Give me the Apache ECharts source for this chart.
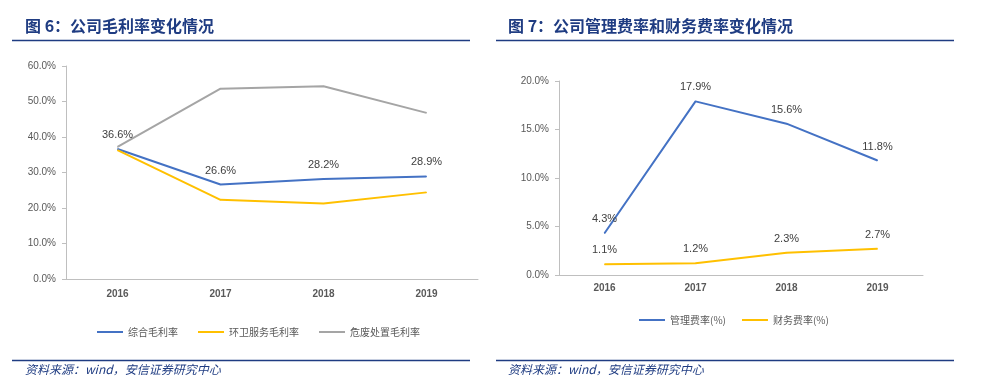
<!DOCTYPE html>
<html><head><meta charset="utf-8">
<script src="https://cdn.jsdelivr.net/npm/echarts@6/dist/echarts.min.js"></script>
<style>html,body{margin:0;padding:0;background:#fff}#c{width:987px;height:382px}</style>
</head><body><div id="c"></div>
<script>
const years = ['2016','2017','2018','2019'];
const grossTotal = [36.6, 26.6, 28.2, 28.9];      // 综合毛利率
const grossSanitation = [36.3, 22.3, 21.3, 24.4]; // 环卫服务毛利率
const grossHazard = [37.2, 53.6, 54.3, 46.8];     // 危废处置毛利率
const mgmtRate = [4.3, 17.9, 15.6, 11.8];         // 管理费率(%)
const finRate = [1.1, 1.2, 2.3, 2.7];             // 财务费率(%)

const navy = '#1f3c82';
const axisLblColor = '#595959';
const pct = v => v.toFixed(1) + '%';
const chart = echarts.init(document.getElementById('c'));

function yAxis(grid, max, interval){
  return {type:'value', gridIndex:grid, min:0, max:max, interval:interval,
    axisLine:{show:true, lineStyle:{color:'#bfbfbf'}},
    axisTick:{show:true, length:4, lineStyle:{color:'#bfbfbf'}},
    splitLine:{show:false},
    axisLabel:{formatter:v=>pct(v), color:axisLblColor, fontSize:10, fontFamily:'Liberation Sans', margin:10}};
}
function xAxis(grid, margin){
  return {type:'category', gridIndex:grid, data:years, boundaryGap:true,
    axisLine:{lineStyle:{color:'#bfbfbf'}}, axisTick:{show:false},
    axisLabel:{color:axisLblColor, fontSize:10, fontFamily:'Liberation Sans', fontWeight:'bold', margin:margin}};
}
function line(name, data, color, grid, showLabel){
  return {name, type:'line', xAxisIndex:grid, yAxisIndex:grid, data,
    symbol:'circle', symbolSize:1, showSymbol:true,
    lineStyle:{color, width:2}, itemStyle:{color},
    label:{show:showLabel, position:'top', distance:8, formatter:p=>pct(p.value),
      color:'#404040', fontSize:11, fontFamily:'Liberation Sans'},
    emphasis:{disabled:true}, animation:false};
}
const titleStyle = {fill:navy, fontSize:16, fontWeight:'bold', fontFamily:'Noto Sans CJK SC'};
const footStyle = {fill:navy, fontSize:12, fontStyle:'italic', fontFamily:'Noto Sans CJK SC'};

chart.setOption({
  animation:false,
  grid:[{left:66, top:66, width:412, height:213},{left:559, top:81, width:364, height:194}],
  xAxis:[xAxis(0, 10), xAxis(1, 8)],
  yAxis:[yAxis(0,60,10), yAxis(1,20,5)],
  legend:[
    {data:['综合毛利率','环卫服务毛利率','危废处置毛利率'], left:92, top:322, icon:'rect', itemWidth:26, itemHeight:2, itemGap:20,
     textStyle:{color:axisLblColor, fontSize:10, fontFamily:'Noto Sans CJK SC'}},
    {data:['管理费率(%)','财务费率(%)'], left:634, top:310, icon:'rect', itemWidth:26, itemHeight:2, itemGap:16,
     textStyle:{color:axisLblColor, fontSize:10, fontFamily:'Noto Sans CJK SC'}}
  ],
  series:[
    line('综合毛利率', grossTotal, '#4472c4', 0, true),
    line('环卫服务毛利率', grossSanitation, '#ffc000', 0, false),
    line('危废处置毛利率', grossHazard, '#a5a5a5', 0, false),
    line('管理费率(%)', mgmtRate, '#4472c4', 1, true),
    line('财务费率(%)', finRate, '#ffc000', 1, true)
  ],
  graphic:[
    {type:'text', left:25, top:18, style:Object.assign({text:'图 6：公司毛利率变化情况'}, titleStyle)},
    {type:'text', left:508, top:18, style:Object.assign({text:'图 7：公司管理费率和财务费率变化情况'}, titleStyle)},
    {type:'line', shape:{x1:12, y1:40.5, x2:470, y2:40.5}, style:{stroke:navy, lineWidth:1.5}},
    {type:'line', shape:{x1:496, y1:40.5, x2:954, y2:40.5}, style:{stroke:navy, lineWidth:1.5}},
    {type:'line', shape:{x1:12, y1:360.5, x2:470, y2:360.5}, style:{stroke:navy, lineWidth:1.5}},
    {type:'line', shape:{x1:496, y1:360.5, x2:954, y2:360.5}, style:{stroke:navy, lineWidth:1.5}},
    {type:'text', left:25, top:363, style:Object.assign({text:'资料来源：wind，安信证券研究中心'}, footStyle)},
    {type:'text', left:508, top:363, style:Object.assign({text:'资料来源：wind，安信证券研究中心'}, footStyle)}
  ]
});
</script></body></html>
